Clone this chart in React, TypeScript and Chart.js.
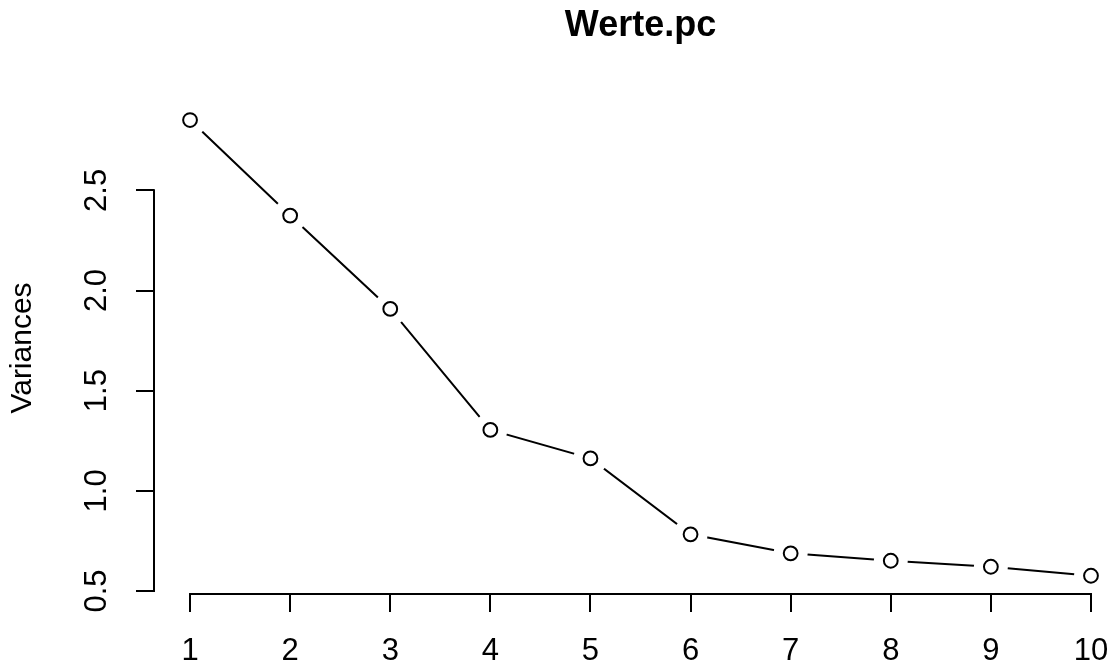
import React, { useEffect, useRef } from "react";
import { Chart, registerables } from "chart.js";

Chart.register(...registerables);

// ---- data ----
const components = [1, 2, 3, 4, 5, 6, 7, 8, 9, 10];
const variances = [2.851, 2.374, 1.908, 1.304, 1.162, 0.783, 0.688, 0.651, 0.621, 0.576];
const xTickValues = [1, 2, 3, 4, 5, 6, 7, 8, 9, 10];
const yTickValues = [0.5, 1.0, 1.5, 2.0, 2.5];
const yTickLabels = ["0.5", "1.0", "1.5", "2.0", "2.5"];
const titleText = "Werte.pc";
const yTitleText = "Variances";

const FONT = "'Liberation Sans', Arial, Helvetica, sans-serif";
const CANVAS_W = 1111;
const CANVAS_H = 664;
// R-style plot region: x range 1..10 padded by 4% on each side
const X_MIN = 0.64;
const X_R_MAX = 10.36;
const X_MAX = 10.2; // visible part of the plot region in the 1111px window
const Y_MIN = 0.485;
const Y_MAX = 2.941;

const rAxesPlugin = {
  id: "rAxes",
  afterDatasetsDraw(chart: any) {
    const { ctx } = chart;
    const xs = chart.scales.x;
    const ys = chart.scales.y;
    ctx.save();
    ctx.strokeStyle = "#000";
    ctx.lineWidth = 2;
    ctx.lineCap = "butt";
    ctx.beginPath();
    const yb = chart.chartArea.bottom;
    ctx.moveTo(xs.getPixelForValue(xTickValues[0]) - 1, yb);
    ctx.lineTo(xs.getPixelForValue(xTickValues[xTickValues.length - 1]) + 1, yb);
    const xl = chart.chartArea.left;
    ctx.moveTo(xl, ys.getPixelForValue(yTickValues[0]) + 1);
    ctx.lineTo(xl, ys.getPixelForValue(yTickValues[yTickValues.length - 1]) - 1);
    ctx.stroke();
    // main title, centred over the (R) plot region
    ctx.fillStyle = "#000";
    ctx.font = `bold 36px ${FONT}`;
    ctx.textAlign = "center";
    ctx.textBaseline = "middle";
    ctx.fillText(titleText, xs.getPixelForValue((X_MIN + X_R_MAX) / 2), 25.6);
    ctx.restore();
  },
};

export default function App() {
  const ref = useRef<HTMLCanvasElement | null>(null);

  useEffect(() => {
    if (!ref.current) return;
    const pts = components.map((c, i) => ({ x: c, y: variances[i] }));
    const chart = new Chart(ref.current, {
      type: "line",
      data: {
        datasets: [
          {
            label: "points",
            data: pts,
            showLine: false,
            pointRadius: 6.9,
            pointBorderWidth: 2,
            pointBorderColor: "#000",
            pointBackgroundColor: "#fff",
            order: 0,
          },
          {
            label: "gap",
            data: pts,
            showLine: false,
            pointRadius: 17,
            pointBorderWidth: 0,
            pointBorderColor: "#fff",
            pointBackgroundColor: "#fff",
            order: 1,
          },
          {
            label: "line",
            data: pts,
            borderColor: "#000",
            borderWidth: 2,
            pointRadius: 0,
            tension: 0,
            fill: false,
            order: 2,
          },
        ],
      },
      options: {
        animation: false,
        responsive: false,
        devicePixelRatio: 1,
        events: [],
        layout: { autoPadding: false, padding: { top: 102, left: 0, right: 0, bottom: 0 } },
        plugins: {
          legend: { display: false },
          tooltip: { enabled: false },
          title: { display: false },
        },
        scales: {
          x: {
            type: "linear",
            min: X_MIN,
            max: X_MAX,
            afterBuildTicks: (s: any) => {
              s.ticks = xTickValues.map((v) => ({ value: v }));
            },
            afterFit: (s: any) => {
              s.height = 70;
              s.paddingLeft = 0;
              s.paddingRight = 0;
            },
            border: { display: false },
            grid: {
              drawOnChartArea: false,
              drawTicks: true,
              tickLength: 18,
              color: "#000",
              lineWidth: 2,
            },
            ticks: {
              color: "#000",
              font: { family: FONT, size: 31 },
              padding: 21,
              maxRotation: 0,
              autoSkip: false,
              callback: (v: any) => String(v),
            },
          },
          y: {
            type: "linear",
            min: Y_MIN,
            max: Y_MAX,
            afterBuildTicks: (s: any) => {
              s.ticks = yTickValues.map((v) => ({ value: v }));
            },
            afterFit: (s: any) => {
              s.width = 154;
              s.paddingTop = 0;
              s.paddingBottom = 0;
            },
            border: { display: false },
            grid: {
              drawOnChartArea: false,
              drawTicks: true,
              tickLength: 18,
              color: "#000",
              lineWidth: 2,
            },
            title: {
              display: true,
              text: yTitleText,
              color: "#000",
              font: { family: FONT, size: 30, lineHeight: 1.2 },
              padding: { top: 5, bottom: 0 },
            },
            ticks: {
              color: "#000",
              font: { family: FONT, size: 31 },
              padding: 17,
              minRotation: 90,
              maxRotation: 90,
              crossAlign: "center",
              autoSkip: false,
              callback: (v: any) => {
                const i = yTickValues.indexOf(Number(v));
                return i >= 0 ? yTickLabels[i] : "";
              },
            },
          },
        },
      },
      plugins: [rAxesPlugin],
    } as any);
    return () => chart.destroy();
  }, []);

  return (
    <div
      style={{
        position: "fixed",
        left: 0,
        top: 0,
        width: CANVAS_W,
        height: CANVAS_H,
        overflow: "hidden",
        background: "#fff",
      }}
    >
      <canvas
        ref={ref}
        width={CANVAS_W}
        height={CANVAS_H}
        style={{ display: "block", width: CANVAS_W, height: CANVAS_H }}
      />
    </div>
  );
}
